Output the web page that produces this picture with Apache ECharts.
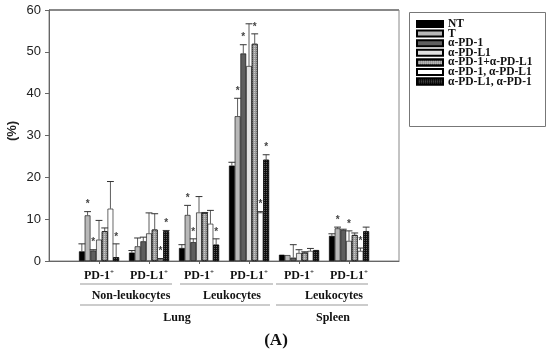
<!DOCTYPE html>
<html><head><meta charset="utf-8">
<script src="https://cdn.jsdelivr.net/npm/echarts@6/dist/echarts.min.js"></script>
<style>html,body{margin:0;padding:0;background:#fff}#c{width:550px;height:353px}</style>
</head><body><div id="c"></div>
<script>
// ---- data ----
const categories = ['start', 'NL PD-1', 'NL PD-L1', 'LL PD-1', 'LL PD-L1', 'SP PD-1', 'SP PD-L1', 'end'];
const tickLabels = ['', 'PD-1', 'PD-L1', 'PD-1', 'PD-L1', 'PD-1', 'PD-L1', ''];
const seriesNames = ['NT', 'T', 'α-PD-1', 'α-PD-L1', 'α-PD-1+α-PD-L1', 'α-PD-1, α-PD-L1', 'α-PD-L1, α-PD-1'];

const valNT     = [2.3, 2.0, 3.1, 22.8, 1.5, 6.0];
const valT      = [10.9, 3.5, 11.0, 34.6, 1.4, 7.8];
const valPD1    = [2.5, 4.7, 4.5, 49.6, 0.8, 7.4];
const valPDL1   = [5.1, 6.6, 11.6, 46.6, 1.9, 4.8];
const valCombo  = [7.1, 7.5, 11.5, 51.9, 2.0, 6.2];
const valSeq1   = [12.5, 0.4, 8.9, 11.6, 2.4, 2.4];
const valSeq2   = [0.9, 7.1, 3.9, 24.2, 2.6, 7.1];

// top of error bar (mean + error)
const errNT     = [4.1, 2.5, 3.9, 23.6, null, 6.5];
const errT      = [11.8, 5.5, 13.3, 38.9, null, 8.1];
const errPD1    = [2.7, 5.7, 5.3, 51.7, 3.9, 7.6];
const errPDL1   = [9.7, 11.5, 15.4, 56.7, 2.7, 7.2];
const errCombo  = [7.9, 11.3, 11.6, 54.3, 2.2, 6.7];
const errSeq1   = [19.0, 0.6, 12.1, 11.8, 3.0, 3.1];
const errSeq2   = [4.1, 7.3, 5.3, 25.4, null, 8.1];

// significance stars
const starNT    = [0, 0, 0, 0, 0, 0];
const starT     = [1, 0, 1, 1, 0, 1];
const starPD1   = [1, 0, 1, 1, 0, 0];
const starPDL1  = [0, 0, 0, 0, 0, 1];
const starCombo = [0, 0, 0, 1, 0, 0];
const starSeq1  = [0, 1, 0, 1, 0, 1];
const starSeq2  = [1, 1, 1, 1, 0, 0];

const yTicks = [0, 10, 20, 30, 40, 50, 60];

// ---- build ----
const vals = [valNT, valT, valPD1, valPDL1, valCombo, valSeq1, valSeq2];
const errs = [errNT, errT, errPD1, errPDL1, errCombo, errSeq1, errSeq2];
const stars = [starNT, starT, starPD1, starPDL1, starCombo, starSeq1, starSeq2];

const styles = [
  { color: '#000000' },
  { color: '#b8b8b8' },
  { color: '#5e5e5e' },
  { color: '#e2e2e2' },
  { color: '#9a9a9a', decal: { symbol: 'rect', symbolSize: 1, color: 'rgba(255,255,255,0.5)', dashArrayX: [1, 1], dashArrayY: [1, 1], rotation: 0 } },
  { color: '#ffffff' },
  { color: '#111111', decal: { symbol: 'rect', symbolSize: 1, color: 'rgba(150,150,150,0.6)', dashArrayX: [1, 1], dashArrayY: [1, 1], rotation: 0 } }
];

const serif = '"Liberation Serif", "Times New Roman", serif';
const sans = '"Liberation Sans", Arial, sans-serif';

const barSeries = seriesNames.map((name, s) => ({
  name, type: 'bar',
  barGap: '0%', barCategoryGap: '20%',
  data: [null].concat(vals[s]).concat([null]),
  itemStyle: Object.assign({ borderColor: '#000', borderWidth: 0.6 }, styles[s]),
  emphasis: { disabled: true },
  z: 2
}));

const errData = [];
vals.forEach((arr, s) => arr.forEach((v, g) => {
  const top = errs[s][g] == null ? v : errs[s][g];
  errData.push([g + 1, top, v, s, stars[s][g]]);
}));

const errSeries = {
  type: 'custom', name: 'err', z: 5, silent: true,
  encode: { x: 0, y: 1 },
  data: errData,
  renderItem(params, api) {
    const cat = api.value(0), top = api.value(1), val = api.value(2), s = api.value(3), star = api.value(4);
    const band = api.size([1, 0])[0];
    const w = band * 0.8 / 7;
    const pTop = api.coord([cat, top]);
    const pVal = api.coord([cat, val]);
    const x = pTop[0] + (s - 3) * w;
    const children = [];
    if (top > val + 0.05) {
      children.push({ type: 'line', shape: { x1: x, y1: pVal[1], x2: x, y2: pTop[1] }, style: { stroke: '#333', lineWidth: 0.8 } });
      children.push({ type: 'line', shape: { x1: x - w * 0.6, y1: pTop[1], x2: x + w * 0.6, y2: pTop[1] }, style: { stroke: '#333', lineWidth: 1 } });
    }
    if (star) {
      children.push({ type: 'text', style: { text: '*', x: x, y: pTop[1] - 7, align: 'center', verticalAlign: 'middle', font: 'bold 10px ' + sans, fill: '#444' } });
    }
    return { type: 'group', children };
  }
};

const chart = echarts.init(document.getElementById('c'));
chart.setOption({
  animation: false,
  backgroundColor: '#fff',
  grid: { left: 49, top: 10, width: 350, height: 251, show: true, borderColor: '#888', borderWidth: 1, containLabel: false },
  legend: {
    left: 416, top: 18, orient: 'vertical', icon: 'rect',
    itemWidth: 26, itemHeight: 6, itemGap: -2.4, padding: 0, selectedMode: false,
    data: seriesNames,
    textStyle: { fontFamily: serif, fontWeight: 'bold', fontSize: 11.5, color: '#111' }
  },
  xAxis: {
    type: 'category', data: categories, boundaryGap: false,
    axisLine: { lineStyle: { color: '#666', width: 1 } },
    axisTick: { show: true, length: 3, interval: (i) => i > 0 && i < 7, lineStyle: { color: '#666' } },
    axisLabel: {
      interval: 0, margin: 8,
      formatter: (v, i) => tickLabels[i] ? tickLabels[i] + '{s|+}' : '',
      fontFamily: serif, fontWeight: 'bold', fontSize: 12, color: '#111', lineHeight: 14,
      rich: { s: { fontFamily: serif, fontWeight: 'bold', fontSize: 7, verticalAlign: 'top', color: '#111' } }
    },
    splitLine: { show: false }
  },
  yAxis: {
    type: 'value', min: 0, max: 60, interval: 10,
    axisLine: { show: true, lineStyle: { color: '#666', width: 1 } },
    axisTick: { show: true, length: 4, lineStyle: { color: '#666' } },
    axisLabel: { margin: 8, fontFamily: sans, fontSize: 13, color: '#222',
      formatter: (v) => yTicks.indexOf(v) >= 0 ? String(v) : '' },
    splitLine: { show: false }
  },
  series: barSeries.concat([errSeries])
});

// annotations below the axis (positions in category units)
const p0 = chart.convertToPixel({ xAxisIndex: 0 }, 0);
const p1 = chart.convertToPixel({ xAxisIndex: 0 }, 1);
const cx = (u) => p0 + (p1 - p0) * u;
const annLines = [
  [0.62, 2.46, 284], [2.62, 4.48, 284], [4.54, 6.38, 284],
  [0.62, 4.42, 305], [4.54, 6.38, 305]
];
const annTexts = [
  ['Non-leukocytes', 1.64, 296], ['Leukocytes', 3.66, 296], ['Leukocytes', 5.7, 296],
  ['Lung', 2.56, 318], ['Spleen', 5.68, 318]
];
const graphic = [];
annLines.forEach(([a, b, y]) => graphic.push({ type: 'line', shape: { x1: cx(a), y1: y, x2: cx(b), y2: y }, style: { stroke: '#999', lineWidth: 1 } }));
annTexts.forEach(([t, u, y]) => graphic.push({ type: 'text', x: cx(u), y: y, style: { text: t, align: 'center', verticalAlign: 'middle', font: 'bold 12px ' + serif, fill: '#111' } }));
graphic.push({ type: 'text', x: 276, y: 341, style: { text: '(A)', align: 'center', verticalAlign: 'middle', font: 'bold 17px ' + serif, fill: '#111' } });
graphic.push({ type: 'text', x: 12, y: 131, rotation: Math.PI / 2, style: { text: '(%)', align: 'center', verticalAlign: 'middle', font: 'bold 13px ' + sans, fill: '#222' } });
graphic.push({ type: 'rect', shape: { x: 409.5, y: 12.5, width: 136, height: 114 }, style: { fill: 'none', stroke: '#777', lineWidth: 1 } });
graphic.push({ type: 'line', shape: { x1: 49, y1: 10, x2: 399, y2: 10 }, style: { stroke: '#888', lineWidth: 2 } });
chart.setOption({ graphic });
</script>
</body></html>
